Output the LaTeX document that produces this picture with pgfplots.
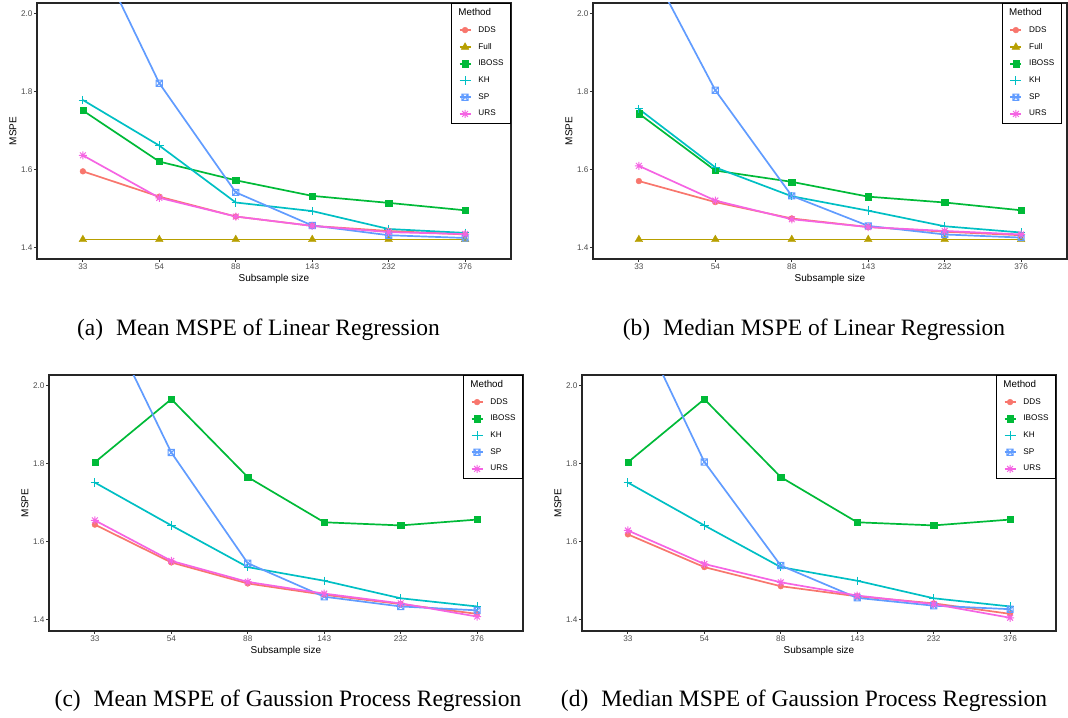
\documentclass[border=0pt]{standalone}
\usepackage{fontspec}
\setmainfont{Liberation Sans}
\newfontfamily\capfont{Liberation Serif}
\usepackage{pgfplots}
\usepackage{pgfplotstable}
\pgfplotsset{compat=1.18}

\definecolor{cDDS}{HTML}{F8766D}
\definecolor{cFull}{HTML}{B79F00}
\definecolor{cIBOSS}{HTML}{00BA38}
\definecolor{cKH}{HTML}{00BFC4}
\definecolor{cSP}{HTML}{619CFF}
\definecolor{cURS}{HTML}{F564E3}
\definecolor{tickgray}{HTML}{4D4D4D}
\definecolor{tickline}{HTML}{333333}

\pgfdeclareplotmark{sqx}{%
  \pgfpathrectangle{\pgfqpoint{-\pgfplotmarksize}{-\pgfplotmarksize}}{\pgfqpoint{2\pgfplotmarksize}{2\pgfplotmarksize}}%
  \pgfpathmoveto{\pgfqpoint{-\pgfplotmarksize}{-\pgfplotmarksize}}\pgfpathlineto{\pgfqpoint{\pgfplotmarksize}{\pgfplotmarksize}}%
  \pgfpathmoveto{\pgfqpoint{-\pgfplotmarksize}{\pgfplotmarksize}}\pgfpathlineto{\pgfqpoint{\pgfplotmarksize}{-\pgfplotmarksize}}%
  \pgfusepathqstroke}
\pgfdeclareplotmark{star8}{%
  \pgfpathmoveto{\pgfqpoint{-\pgfplotmarksize}{0pt}}\pgfpathlineto{\pgfqpoint{\pgfplotmarksize}{0pt}}%
  \pgfpathmoveto{\pgfqpoint{0pt}{-\pgfplotmarksize}}\pgfpathlineto{\pgfqpoint{0pt}{\pgfplotmarksize}}%
  \pgfpathmoveto{\pgfqpoint{-0.72\pgfplotmarksize}{-0.72\pgfplotmarksize}}\pgfpathlineto{\pgfqpoint{0.72\pgfplotmarksize}{0.72\pgfplotmarksize}}%
  \pgfpathmoveto{\pgfqpoint{-0.72\pgfplotmarksize}{0.72\pgfplotmarksize}}\pgfpathlineto{\pgfqpoint{0.72\pgfplotmarksize}{-0.72\pgfplotmarksize}}%
  \pgfusepathqstroke}

\pgfplotsset{
  panel/.style={
    scale only axis, width=237pt, height=128pt,
    xmin=-0.6, xmax=5.6, ymin=1.371, ymax=2.028,
    xtick={0,1,2,3,4,5}, xticklabels={33,54,88,143,232,376},
    ytick={1.4,1.6,1.8,2.0},
    /pgf/number format/assume math mode=true,
    yticklabel style={/pgf/number format/fixed, /pgf/number format/fixed zerofill, /pgf/number format/precision=1},
    tick label style={font=\fontsize{4.1}{4.5}\selectfont, text=tickgray},
    xticklabel style={inner sep=0.7pt},
    yticklabel style={inner sep=0.8pt},
    major tick length=1.3pt, tick align=outside,
    tick style={tickline, line width=0.5pt},
    xtick pos=bottom, ytick pos=left,
    axis line style={black!85, line width=0.6pt},
    every axis x label/.style={at={(axis description cs:0.5,0)}, anchor=base, yshift=-11pt, font=\fontsize{5}{6}\selectfont},
    every axis y label/.style={at={(axis description cs:-0.0506,0.5)}, anchor=center, rotate=90, font=\fontsize{5}{6}\selectfont},
    xlabel={Subsample size}, ylabel={MSPE},
    legend cell align=left,
    legend style={at={(1,1)}, anchor=north east, draw=black, line width=0.5pt, fill=white,
      font=\fontsize{4.1}{5}\selectfont, inner xsep=3.5pt, inner ysep=3pt,
      row sep=4.3pt, column sep=3.5pt,
      nodes={inner sep=0pt, text height=3pt, text depth=1pt, anchor=west}},
    legend image code/.code={\draw[mark repeat=2,mark phase=2,##1] plot coordinates {(0pt,0pt) (2.75pt,0pt) (5.5pt,0pt)};},
  },
  sdds/.style={color=cDDS, line width=0.85pt, mark=*, mark size=1.45pt, mark options={solid, line width=0.2pt}},
  sfull/.style={color=cFull, line width=0.85pt, mark=triangle*, mark size=2.2pt, mark options={solid, line width=0.2pt}},
  siboss/.style={color=cIBOSS, line width=0.85pt, mark=square*, mark size=1.55pt, mark options={solid, line width=0.2pt}},
  skh/.style={color=cKH, line width=0.85pt, mark=+, mark size=2.1pt, mark options={solid, line width=0.5pt}},
  ssp/.style={color=cSP, line width=0.85pt, mark=sqx, mark size=1.55pt, mark options={solid, line width=0.5pt}},
  surs/.style={color=cURS, line width=0.85pt, mark=star8, mark size=2pt, mark options={solid, line width=0.5pt}},
}

\pgfplotstableread{
x dds full iboss kh sp urs
0 1.596 1.421 1.752 1.779 2.228 1.637
1 1.531 1.421 1.621 1.662 1.822 1.528
2 1.480 1.421 1.573 1.516 1.542 1.480
3 1.456 1.421 1.533 1.494 1.457 1.456
4 1.443 1.421 1.515 1.448 1.432 1.440
5 1.434 1.421 1.496 1.438 1.425 1.435
}\tabA
\pgfplotstableread{
x dds full iboss kh sp urs
0 1.571 1.421 1.744 1.756 2.176 1.610
1 1.517 1.421 1.598 1.606 1.804 1.521
2 1.475 1.421 1.569 1.532 1.533 1.473
3 1.453 1.421 1.531 1.495 1.456 1.453
4 1.441 1.421 1.516 1.455 1.434 1.443
5 1.432 1.421 1.496 1.439 1.426 1.434
}\tabB
\pgfplotstableread{
x dds iboss kh sp urs
0 1.644 1.804 1.752 2.232 1.655
1 1.547 1.966 1.642 1.829 1.551
2 1.493 1.766 1.535 1.545 1.497
3 1.464 1.650 1.500 1.459 1.467
4 1.440 1.642 1.455 1.434 1.442
5 1.415 1.657 1.434 1.424 1.408
}\tabC
\pgfplotstableread{
x dds iboss kh sp urs
0 1.619 1.804 1.752 2.218 1.629
1 1.535 1.966 1.642 1.805 1.543
2 1.486 1.766 1.535 1.539 1.496
3 1.460 1.650 1.500 1.456 1.462
4 1.442 1.642 1.455 1.436 1.440
5 1.415 1.657 1.434 1.427 1.405
}\tabD

\begin{document}
\begin{tikzpicture}
\useasboundingbox (0,0) rectangle (534pt,-358.5pt);

% (a)
\begin{axis}[panel, at={(18.5pt,-129.5pt)}, anchor=south west]
\addlegendimage{empty legend}\addlegendentry{\fontsize{4.9}{5}\selectfont\hspace*{-10pt}Method}
\addplot[sdds] table[x=x,y=dds]{\tabA}; \addlegendentry{DDS}
\addplot[sfull] table[x=x,y=full]{\tabA}; \addlegendentry{Full}
\addplot[siboss] table[x=x,y=iboss]{\tabA}; \addlegendentry{IBOSS}
\addplot[skh] table[x=x,y=kh]{\tabA}; \addlegendentry{KH}
\addplot[ssp] table[x=x,y=sp]{\tabA}; \addlegendentry{SP}
\addplot[surs] table[x=x,y=urs]{\tabA}; \addlegendentry{URS}
\end{axis}

% (b)
\begin{axis}[panel, at={(296.5pt,-129.5pt)}, anchor=south west, legend style={at={(1,1)}, xshift=-2.6pt}]
\addlegendimage{empty legend}\addlegendentry{\fontsize{4.9}{5}\selectfont\hspace*{-10pt}Method}
\addplot[sdds] table[x=x,y=dds]{\tabB}; \addlegendentry{DDS}
\addplot[sfull] table[x=x,y=full]{\tabB}; \addlegendentry{Full}
\addplot[siboss] table[x=x,y=iboss]{\tabB}; \addlegendentry{IBOSS}
\addplot[skh] table[x=x,y=kh]{\tabB}; \addlegendentry{KH}
\addplot[ssp] table[x=x,y=sp]{\tabB}; \addlegendentry{SP}
\addplot[surs] table[x=x,y=urs]{\tabB}; \addlegendentry{URS}
\end{axis}

% (c)
\begin{axis}[panel, at={(24.5pt,-315.5pt)}, anchor=south west]
\addlegendimage{empty legend}\addlegendentry{\fontsize{4.9}{5}\selectfont\hspace*{-10pt}Method}
\addplot[sdds] table[x=x,y=dds]{\tabC}; \addlegendentry{DDS}
\addplot[siboss] table[x=x,y=iboss]{\tabC}; \addlegendentry{IBOSS}
\addplot[skh] table[x=x,y=kh]{\tabC}; \addlegendentry{KH}
\addplot[ssp] table[x=x,y=sp]{\tabC}; \addlegendentry{SP}
\addplot[surs] table[x=x,y=urs]{\tabC}; \addlegendentry{URS}
\end{axis}

% (d)
\begin{axis}[panel, at={(291pt,-315.5pt)}, anchor=south west]
\addlegendimage{empty legend}\addlegendentry{\fontsize{4.9}{5}\selectfont\hspace*{-10pt}Method}
\addplot[sdds] table[x=x,y=dds]{\tabD}; \addlegendentry{DDS}
\addplot[siboss] table[x=x,y=iboss]{\tabD}; \addlegendentry{IBOSS}
\addplot[skh] table[x=x,y=kh]{\tabD}; \addlegendentry{KH}
\addplot[ssp] table[x=x,y=sp]{\tabD}; \addlegendentry{SP}
\addplot[surs] table[x=x,y=urs]{\tabD}; \addlegendentry{URS}
\end{axis}

\node[anchor=base, font=\capfont\fontsize{11.75}{13}\selectfont, inner sep=0pt] at (129.25pt,-167.85pt) {(a)\hspace{0.55em}Mean MSPE of Linear Regression};
\node[anchor=base, font=\capfont\fontsize{11.75}{13}\selectfont, inner sep=0pt] at (407pt,-167.85pt) {(b)\hspace{0.55em}Median MSPE of Linear Regression};
\node[anchor=base, font=\capfont\fontsize{11.75}{13}\selectfont, inner sep=0pt] at (144pt,-353pt) {(c)\hspace{0.55em}Mean MSPE of Gaussion Process Regression};
\node[anchor=base, font=\capfont\fontsize{11.75}{13}\selectfont, inner sep=0pt] at (402pt,-353pt) {(d)\hspace{0.55em}Median MSPE of Gaussion Process Regression};
\end{tikzpicture}
\end{document}
